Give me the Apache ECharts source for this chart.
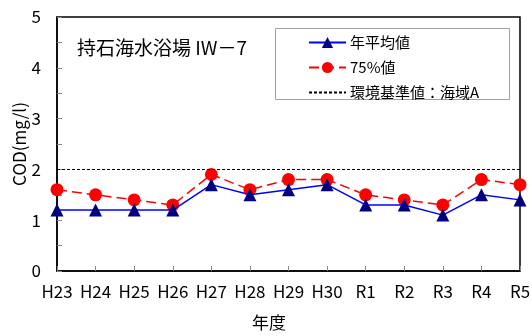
<!DOCTYPE html>
<html>
<head>
<meta charset="utf-8">
<script src="https://cdn.jsdelivr.net/npm/echarts@6/dist/echarts.min.js"></script>
<style>
  html, body { margin: 0; padding: 0; background: #fff; }
  #chart { width: 532px; height: 336px; }
</style>
</head>
<body>
<div id="chart"></div>
<script>
// data
var years = ['H23', 'H24', 'H25', 'H26', 'H27', 'H28', 'H29', 'H30', 'R1', 'R2', 'R3', 'R4', 'R5'];
var annualMean = [1.2, 1.2, 1.2, 1.2, 1.7, 1.5, 1.6, 1.7, 1.3, 1.3, 1.1, 1.5, 1.4];
var value75 = [1.6, 1.5, 1.4, 1.3, 1.9, 1.6, 1.8, 1.8, 1.5, 1.4, 1.3, 1.8, 1.7];
var standardValue = 2;
var yTicks = [0, 1, 2, 3, 4, 5];

var font = '"Noto Sans CJK JP", "Liberation Sans", sans-serif';

var chartDom = document.getElementById('chart');
var myChart = echarts.init(chartDom, null, { renderer: 'canvas' });

var option = {
  animation: false,
  textStyle: { fontFamily: font, color: '#000' },
  grid: {
    left: 57,
    right: 12,
    top: 17,
    bottom: 65,
    outerBoundsMode: 'none',
    containLabel: false,
    show: true,
    borderColor: '#000',
    borderWidth: 1.5
  },
  legend: {
    orient: 'vertical',
    left: 303,
    top: 30,
    itemWidth: 37,
    itemHeight: 14,
    itemGap: 10,
    textStyle: { fontFamily: font, fontSize: 15, color: '#000', padding: [0, 0, 0, -1] },
    data: ['年平均値', '75%値', '環境基準値：海域A']
  },
  xAxis: {
    type: 'category',
    data: years,
    boundaryGap: false,
    axisLine: { lineStyle: { color: '#000', width: 1.5 } },
    axisTick: { inside: true, length: 5, interval: 0, lineStyle: { color: '#888' } },
    axisLabel: { fontSize: 17, color: '#000', margin: 12, interval: 0, fontFamily: font },
    splitLine: { show: false }
  },
  yAxis: {
    type: 'value',
    min: yTicks[0],
    max: yTicks[yTicks.length - 1],
    interval: 1,
    name: 'COD(mg/l)',
    nameLocation: 'middle',
    nameGap: 29,
    nameMoveOverlap: false,
    nameTextStyle: { fontSize: 17, color: '#000', fontFamily: font },
    axisLine: { show: true, lineStyle: { color: '#000', width: 1.5 } },
    axisTick: { show: true, inside: true, length: 5, lineStyle: { color: '#888' } },
    minorTick: { show: true, splitNumber: 2, length: 5, lineStyle: { color: '#888' } },
    axisLabel: { fontSize: 17, color: '#000', margin: 16, fontFamily: font },
    splitLine: { show: false }
  },
  graphic: [
    {
      type: 'rect',
      left: 273,
      top: 26,
      shape: { width: 234, height: 71 },
      style: { fill: 'none', stroke: '#a0a0a0', lineWidth: 1 },
      z: 1
    },
    {
      type: 'text',
      left: 77,
      top: 38,
      style: { text: '持石海水浴場 IW－7', font: '19px ' + font, fill: '#000' }
    },
    {
      type: 'text',
      left: 252,
      top: 314,
      style: { text: '年度', font: '17px ' + font, fill: '#000' }
    }
  ],
  series: [
    {
      name: '75%値',
      type: 'line',
      data: value75,
      symbol: 'circle',
      symbolSize: 13,
      itemStyle: { color: '#ff0000' },
      lineStyle: { color: '#ff0000', width: 1.5, type: [10, 5] },
      z: 3
    },
    {
      name: '年平均値',
      type: 'line',
      data: annualMean,
      symbol: 'triangle',
      symbolSize: 13,
      itemStyle: { color: '#000080' },
      lineStyle: { color: '#0000ff', width: 1.5 },
      z: 4
    },
    {
      name: '環境基準値：海域A',
      type: 'line',
      data: [],
      symbol: 'none',
      itemStyle: { color: 'rgba(0,0,0,0)' },
      lineStyle: { color: '#000', width: 1.2, type: [3, 2] },
      markLine: {
        silent: true,
        symbol: 'none',
        label: { show: false },
        lineStyle: { color: '#000', width: 1.2, type: [3, 2] },
        data: [{ yAxis: standardValue }]
      },
      z: 2
    }
  ]
};

option && myChart.setOption(option);
</script>
</body>
</html>
